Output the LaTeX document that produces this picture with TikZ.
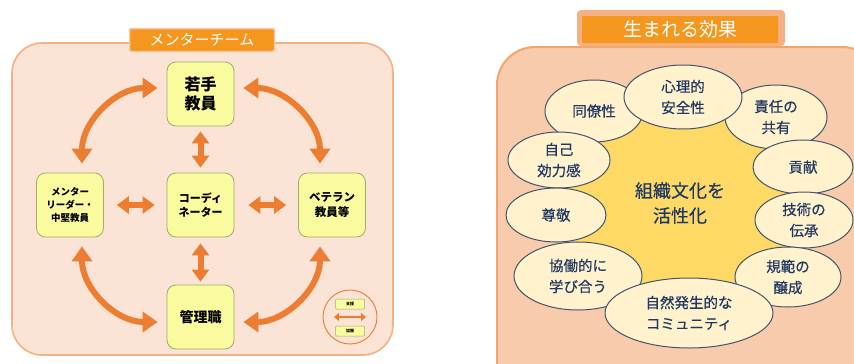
\documentclass[tikz,border=0pt]{standalone}
\usepackage{fontspec}
\newfontfamily\jp{Noto Sans CJK JP}
\newfontfamily\jpm[FakeBold=0.4]{Noto Sans CJK JP}
\usetikzlibrary{arrows.meta,shapes.geometric}
\definecolor{lfill}{HTML}{FBE3D5}
\definecolor{lborder}{HTML}{F4B183}
\definecolor{arr}{HTML}{ED7D31}
\definecolor{nfill}{HTML}{FAFA9E}
\definecolor{nborder}{HTML}{9EAD6E}
\definecolor{ttl}{HTML}{F5961E}
\definecolor{rfill}{HTML}{F8CBAD}
\definecolor{rborder}{HTML}{F2A66E}
\definecolor{blob}{HTML}{FFD966}
\definecolor{efill}{HTML}{FFF2CC}
\definecolor{eborder}{HTML}{44546A}
\definecolor{etext}{HTML}{1F3864}
\tikzset{
  lbox/.style={draw=nborder, line width=0.8pt, fill=nfill, rounded corners=9pt,
    minimum width=67pt, minimum height=64pt, align=center, inner sep=1pt,
    font=\jp\bfseries, text=black},
  bigarrow/.style={draw=arr, line width=6pt,
    {Triangle[width=17pt,length=12pt]}-{Triangle[width=17pt,length=12pt]}},
  curvearrow/.style={draw=arr, line width=6pt,
    {Triangle[width=20pt,length=15pt]}-{Triangle[width=20pt,length=15pt]}},
  legbox/.style={draw=nborder, line width=0.5pt, fill=nfill, rounded corners=1pt,
    minimum width=29pt, minimum height=10pt, inner sep=0pt, font=\jp\bfseries\fontsize{4}{4}\selectfont},
  eff/.style={ellipse, draw=eborder, line width=1pt, fill=efill, inner sep=0pt,
    align=center, text=etext, font=\jpm\fontsize{14.5}{21}\selectfont},
}
\begin{document}
\begin{tikzpicture}[x=1pt,y=-1pt]
\useasboundingbox (0,0) rectangle (854,364);
\clip (0,0) rectangle (854,364);
\fill[white] (0,0) rectangle (854,364);
% ---------- left panel ----------
\draw[draw=lborder, line width=1.6pt, fill=lfill, rounded corners=30pt] (12,43) rectangle (393,355);
\node[draw=lborder!70, line width=1.5pt, fill=ttl, rounded corners=2pt, minimum width=145pt, minimum height=23pt,
  inner sep=0pt, text=white, font=\jp\fontsize{15}{15}\selectfont] (ttlL) at (202,40) {メンターチーム};

\node[lbox, font=\jp\bfseries\fontsize{16}{19}\selectfont] (young) at (200.5,94) {若手\\教員};
\node[lbox, font=\jp\bfseries\fontsize{11}{14}\selectfont] (coord) at (200.5,205) {コーディ\\ネーター};
\node[lbox, font=\jp\bfseries\fontsize{9.5}{13}\selectfont] (mentor) at (70,205) {メンター\\リーダー・\\中堅教員};
\node[lbox, font=\jp\bfseries\fontsize{11.5}{15}\selectfont] (vet) at (332,205) {ベテラン\\教員等};
\node[lbox, font=\jp\bfseries\fontsize{14}{16}\selectfont] (mgr) at (200.5,317) {管理職};

\draw[bigarrow] ([yshift=-5pt]young.south) -- ([yshift=5pt]coord.north);
\draw[bigarrow] ([yshift=-6pt]coord.south) -- ([yshift=3pt]mgr.north);
\draw[bigarrow] ([xshift=13pt]mentor.east) -- ([xshift=-12pt]coord.west);
\draw[bigarrow] ([xshift=14pt]coord.east) -- ([xshift=-12pt]vet.west);

\draw[curvearrow] ([xshift=-9pt,yshift=6pt]young.west) .. controls +(-42,0) and +(0,-42) .. ([xshift=12pt,yshift=9pt]mentor.north);
\draw[curvearrow] ([xshift=9pt,yshift=6pt]young.east) .. controls +(42,0) and +(0,-42) .. ([xshift=-12pt,yshift=9pt]vet.north);
\draw[curvearrow] ([xshift=12pt,yshift=-9pt]mentor.south) .. controls +(0,42) and +(-42,0) .. ([xshift=-9pt,yshift=-5pt]mgr.west);
\draw[curvearrow] ([xshift=-12pt,yshift=-9pt]vet.south) .. controls +(0,42) and +(42,0) .. ([xshift=9pt,yshift=-5pt]mgr.east);

% legend
\node[circle, draw=arr, line width=0.9pt, minimum size=54pt, inner sep=0pt] (leg) at (350,317) {};
\node[legbox] (sup) at (350,304) {支援};
\node[legbox] (col) at (350,331) {協働};
\draw[draw=arr, line width=2.5pt, {Triangle[width=8pt,length=5pt]}-{Triangle[width=8pt,length=5pt]}]
  ([xshift=-16pt,yshift=-13pt]sup.center) -- ([xshift=16pt,yshift=-13pt]sup.center);

% ---------- right panel ----------
\node[fill=lborder, rounded corners=4pt, minimum width=208pt, minimum height=36pt, inner sep=0pt] (ttlRo) at (681,28) {};
\draw[draw=rborder, line width=2pt, fill=rfill, rounded corners=38pt] (497,47) rectangle (880,400);
\node[fill=ttl, rounded corners=1pt, minimum width=196pt, minimum height=27pt, inner sep=0pt,
  text=white, font=\jp\fontsize{19}{19}\selectfont] (ttlR) at (680,29.5) {生まれる効果};

\fill[blob] (680,205) ellipse [x radius=112, y radius=102];

\node[eff, minimum width=98pt, minimum height=62pt] (e2) at (594,111) {同僚性};
\node[eff, minimum width=102pt, minimum height=64pt] (e3) at (776,117) {責任の\\共有};
\node[eff, minimum width=118pt, minimum height=64pt] (e1) at (683,97) {心理的\\安全性};
\node[eff, minimum width=102pt, minimum height=56pt] (e4) at (559,160) {自己\\効力感};
\node[eff, minimum width=100pt, minimum height=54pt] (e5) at (803,167) {貢献};
\node[eff, minimum width=100pt, minimum height=54pt] (e6) at (556,215) {尊敬};
\node[eff, minimum width=98pt, minimum height=56pt] (e7) at (804,220) {技術の\\伝承};
\node[eff, minimum width=128pt, minimum height=68pt] (e8) at (578,276) {協働的に\\学び合う};
\node[eff, minimum width=106pt, minimum height=60pt] (e9) at (788,277) {規範の\\醸成};
\node[eff, minimum width=168pt, minimum height=70pt] (e10) at (689,313) {自然発生的な\\コミュニティ};

\node[align=center, text=etext, font=\jpm\fontsize{18}{25}\selectfont] (core) at (680,203) {組織文化を\\活性化};
\end{tikzpicture}
\end{document}
